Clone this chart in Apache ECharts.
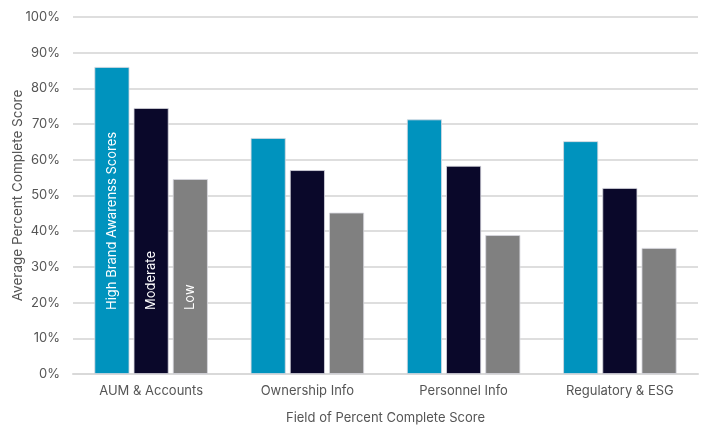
<!DOCTYPE html>
<html>
<head>
<meta charset="utf-8">
<script src="https://cdn.jsdelivr.net/npm/echarts@6/dist/echarts.min.js"></script>
<style>html,body{margin:0;padding:0;background:#fff}#c{width:704px;height:425px}</style>
</head>
<body>
<div id="c"></div>
<script>
const categories = ['AUM & Accounts', 'Ownership Info', 'Personnel Info', 'Regulatory & ESG'];
const highValues = [86.0, 66.1, 71.3, 65.2];
const moderateValues = [74.5, 57.1, 58.3, 52.1];
const lowValues = [54.6, 45.2, 38.9, 35.3];
const seriesNames = ['High Brand Awarenss Scores', 'Moderate', 'Low'];
const yTicks = [0, 10, 20, 30, 40, 50, 60, 70, 80, 90, 100];

const FONT = 'Inter';
const chart = echarts.init(document.getElementById('c'));
function mk(name, data, color) {
  return {
    name: name,
    type: 'bar',
    data: data.map((v, i) => i === 0 ? {
      value: v,
      label: {
        show: true, formatter: name, position: 'insideBottom', rotate: 90,
        align: 'left', verticalAlign: 'middle', distance: 64,
        color: '#fff', fontFamily: FONT, fontSize: 13
      }
    } : v),
    barWidth: 35,
    barGap: '12%',
    itemStyle: { color: color, borderColor: '#d8d8e0', borderWidth: 0.8 }
  };
}
chart.setOption({
  animation: false,
  textStyle: { fontFamily: FONT },
  grid: { left: 73, right: 6, top: 17, bottom: 51, containLabel: false, outerBoundsMode: 'none' },
  xAxis: {
    type: 'category', data: categories,
    name: 'Field of Percent Complete Score', nameLocation: 'middle', nameGap: 38,
    nameMoveOverlap: false,
    nameTextStyle: { color: '#555', fontSize: 13, fontFamily: FONT },
    axisLine: { show: true, lineStyle: { color: '#d9d9d9', width: 2 } },
    axisTick: { show: false },
    axisLabel: { color: '#555', fontSize: 13, fontFamily: FONT, margin: 11 }
  },
  yAxis: {
    type: 'value', min: yTicks[0], max: yTicks[yTicks.length - 1], interval: 10,
    name: 'Average Percent Complete Score', nameLocation: 'middle', nameGap: 48,
    nameMoveOverlap: false,
    nameTextStyle: { color: '#555', fontSize: 13.5, fontFamily: FONT },
    axisLine: { show: false }, axisTick: { show: false },
    axisLabel: { color: '#555', fontSize: 13, fontFamily: FONT, margin: 13, formatter: '{value}%' },
    splitLine: { lineStyle: { color: '#dedede', width: 2 } }
  },
  series: [
    mk(seriesNames[0], highValues, '#0093be'),
    mk(seriesNames[1], moderateValues, '#0a082a'),
    mk(seriesNames[2], lowValues, '#808080')
  ]
});
</script>
</body>
</html>
